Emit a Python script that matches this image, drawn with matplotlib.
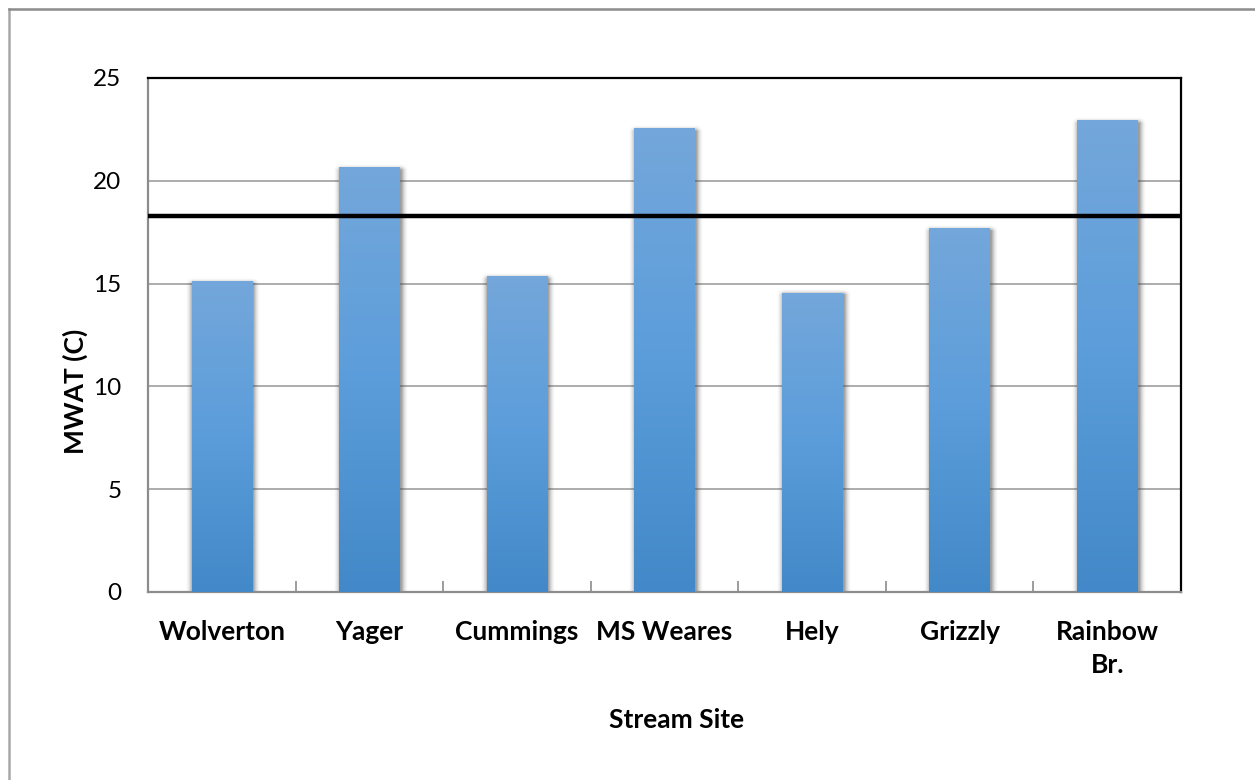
import matplotlib.pyplot as plt
import numpy as np
from matplotlib.lines import Line2D
from matplotlib.colors import LinearSegmentedColormap

plt.rcParams['font.family'] = ['Lato', 'DejaVu Sans']

# MWAT by stream site
sites = ["Wolverton", "Yager", "Cummings", "MS Weares", "Hely", "Grizzly", "Rainbow\nBr."]
mwat = [15.13, 20.68, 15.38, 22.57, 14.56, 17.71, 22.96]
criterion = 18.3

fig = plt.figure(figsize=(12.55, 7.8), dpi=100)
ax = fig.add_axes([148 / 1255, 188 / 780, 1033 / 1255, 514 / 780])

x = np.arange(len(sites))
bar_w = 0.41
bars = ax.bar(x, mwat, width=bar_w, color='none', edgecolor='none', zorder=3)

ax.set_xlim(-0.5, len(sites) - 0.5)
ax.set_ylim(0, 25)

# gradient fill + soft shadow for each bar
grad = LinearSegmentedColormap.from_list('blu', ['#4388C8', '#5B9DDA', '#74A7DB'])
g = np.linspace(0, 1, 256).reshape(-1, 1)
for rect in bars:
    x0, w, h = rect.get_x(), rect.get_width(), rect.get_height()
    # shadow, fading out from the bar edges
    sx = 0.05
    sy = 0.3
    nx, ny = 160, 300
    xs = np.linspace(x0 - sx, x0 + w + sx, nx)
    ys = np.linspace(0, h + sy, ny)
    ax_ = np.clip(np.minimum(xs - (x0 - sx), (x0 + w + sx) - xs) / sx, 0, 1)
    ay_ = np.clip(((h + sy) - ys) / sy, 0, 1)
    alpha = np.outer(ay_, ax_) ** 2 * 0.55
    shadow = np.zeros((ny, nx, 4))
    shadow[..., 0:3] = 0.3
    shadow[..., 3] = alpha
    ax.imshow(shadow, extent=[x0 - sx + 0.008, x0 + w + sx + 0.008, 0, h + sy - 0.12],
              origin='lower', aspect='auto', zorder=2.5, interpolation='bilinear')
    im = ax.imshow(g, cmap=grad, extent=[x0, x0 + w, 0, h], origin='lower',
                   aspect='auto', zorder=3, interpolation='bilinear')
    im.set_clip_path(rect)

ax.set_xlim(-0.5, len(sites) - 0.5)
ax.set_ylim(0, 25)

# threshold line
ax.axhline(criterion, color='black', lw=3.2, zorder=4)

# grid and spines
ax.set_yticks([0, 5, 10, 15, 20, 25])
ax.yaxis.grid(True, color='#A6A6A6', lw=1.3, zorder=0)
ax.set_axisbelow(True)
for side in ['left', 'bottom']:
    ax.spines[side].set_color('#8C8C8C')
    ax.spines[side].set_linewidth(1.6)
for side in ['top', 'right']:
    ax.spines[side].set_color('black')
    ax.spines[side].set_linewidth(1.6)

ax.tick_params(axis='y', length=0, pad=19, labelsize=17.5, labelcolor='black')
ax.set_xticks(x)
ax.set_xticklabels(sites, fontsize=19, fontweight='bold', linespacing=1.45, va='top')
ax.tick_params(axis='x', length=0, pad=20)
ax.set_xticks(np.arange(len(sites) - 1) + 0.5, minor=True)
ax.tick_params(axis='x', which='minor', direction='in', length=8, width=1.2, color='#8C8C8C')

ax.set_ylabel('MWAT (C)', fontsize=19, fontweight='bold')
ax.yaxis.set_label_coords(-0.058, 0.39)
fig.text(677 / 1255, 1 - 720 / 780, 'Stream Site', fontsize=19, fontweight='bold',
         ha='center', va='center')

# outer chart border
fig.add_artist(Line2D([9 / 1255, 9 / 1255], [0, 1 - 9 / 780], transform=fig.transFigure,
                      color='#A8A8A8', lw=1.8))
fig.add_artist(Line2D([9 / 1255, 1], [1 - 9 / 780, 1 - 9 / 780], transform=fig.transFigure,
                      color='#8C8C8C', lw=1.8))

fig.savefig('out.png', dpi=100)
